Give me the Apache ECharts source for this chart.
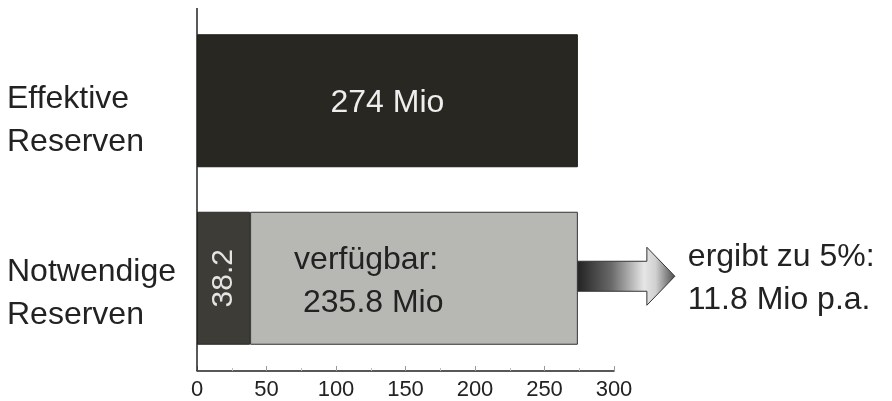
<!DOCTYPE html>
<html>
<head>
<meta charset="utf-8">
<script src="https://cdn.jsdelivr.net/npm/echarts@6/dist/echarts.min.js"></script>
<style>
  html, body { margin: 0; padding: 0; background: #ffffff; }
  #chart { width: 892px; height: 401px; }
</style>
</head>
<body>
<div id="chart"></div>
<script>
// Reserves in millions
const categories = ['Effektive\nReserven', 'Notwendige\nReserven'];
const effectiveReserves = [274, null];
const requiredReserves = [null, 38.2];
const availableReserves = [null, 235.8];
const xMin = 0;
const xMax = 300;
const xStep = 50;
const resultLines = ['ergibt zu 5%:', '11.8 Mio p.a.'];

const FONT = '"Liberation Sans", Arial, Helvetica, sans-serif';
const BIG = 32;
const chart = echarts.init(document.getElementById('chart'), null, { renderer: 'canvas' });

chart.setOption({
  animation: false,
  backgroundColor: '#ffffff',
  grid: { left: 197, right: 278, top: 12, bottom: 33, containLabel: false },
  xAxis: {
    type: 'value',
    min: xMin,
    max: xMax,
    interval: xStep,
    offset: 4,
    axisLine: { show: true, lineStyle: { color: '#222', width: 1.5 } },
    axisTick: { show: true, inside: true, length: 5, lineStyle: { color: '#999', width: 1 } },
    minorTick: { show: true, splitNumber: 2, length: 3, lineStyle: { color: '#bbb' } },
    splitLine: { show: false },
    axisLabel: { color: '#222', fontFamily: FONT, fontSize: 22, margin: 8 }
  },
  yAxis: {
    type: 'category',
    data: categories,
    inverse: true,
    axisLine: { show: false },
    axisTick: { show: false },
    axisLabel: { show: false }
  },
  series: [
    {
      name: 'Effektive Reserven',
      type: 'bar',
      stack: 'total',
      barWidth: 133,
      data: effectiveReserves,
      itemStyle: { color: '#282721', borderColor: '#1c1c18', borderWidth: 1 },
      label: {
        show: true,
        position: 'inside',
        offset: [0, 2],
        formatter: p => p.value + ' Mio',
        color: '#eeeeee',
        fontFamily: FONT,
        fontSize: BIG
      }
    },
    {
      name: 'Notwendige Reserven',
      type: 'bar',
      stack: 'total',
      barWidth: 133,
      data: requiredReserves,
      itemStyle: { color: '#3d3c37', borderColor: '#2a2a26', borderWidth: 1 },
      label: {
        show: true,
        position: 'inside',
        rotate: 90,
        formatter: p => String(p.value),
        color: '#e4e4e4',
        fontFamily: FONT,
        fontSize: 30
      }
    },
    {
      name: 'verfügbar',
      type: 'bar',
      stack: 'total',
      barWidth: 133,
      data: availableReserves,
      itemStyle: { color: '#b7b7b3', borderColor: '#333', borderWidth: 1 },
      label: {
        show: true,
        position: [44, 27],
        align: 'left',
        verticalAlign: 'top',
        formatter: p => 'verfügbar:\n ' + p.value + ' Mio',
        color: '#222',
        fontFamily: FONT,
        fontSize: BIG,
        lineHeight: 43
      }
    }
  ]
});

// Axis line, category names, arrow and result text placed from the axis scales
function drawExtras() {
  const origin = chart.convertToPixel({ gridIndex: 0 }, [0, 0]);
  const total = availableReserves[1] + requiredReserves[1];
  const end = chart.convertToPixel({ gridIndex: 0 }, [total, 1]);
  const gridRect = chart.getModel().getComponent('grid', 0).coordinateSystem.getRect();
  const x0 = end[0];
  const yc = end[1] - 2;
  const shaftLen = 69, headLen = 28, shaftHalf = 15, headHalf = 29;
  const nameShift = [20, 15];

  const names = categories.map((name, i) => {
    const p = chart.convertToPixel({ gridIndex: 0 }, [0, i]);
    return {
      type: 'text',
      x: 7,
      y: p[1] + nameShift[i],
      style: {
        text: name,
        fill: '#222',
        font: BIG + 'px ' + FONT,
        lineHeight: 43,
        textAlign: 'left',
        textVerticalAlign: 'middle'
      },
      z: 10
    };
  });

  chart.setOption({
    graphic: names.concat([
      {
        type: 'line',
        shape: { x1: origin[0], y1: gridRect.y - 4, x2: origin[0], y2: gridRect.y + gridRect.height + 4 },
        style: { stroke: '#222', lineWidth: 1.5 },
        z: 10
      },
      {
        type: 'polygon',
        shape: {
          points: [
            [x0, yc - shaftHalf], [x0 + shaftLen, yc - shaftHalf], [x0 + shaftLen, yc - headHalf],
            [x0 + shaftLen + headLen, yc], [x0 + shaftLen, yc + headHalf], [x0 + shaftLen, yc + shaftHalf],
            [x0, yc + shaftHalf]
          ]
        },
        style: {
          fill: new echarts.graphic.LinearGradient(0, 0, 1, 0, [
            { offset: 0, color: '#222222' },
            { offset: 0.35, color: '#6a6a6a' },
            { offset: 0.68, color: '#e6e6e6' },
            { offset: 0.8, color: '#d0d0d0' },
            { offset: 1, color: '#4a4a4a' }
          ]),
          stroke: '#333',
          lineWidth: 1
        },
        z: 10
      },
      {
        type: 'text',
        x: x0 + shaftLen + headLen + 13,
        y: yc + 2,
        style: {
          text: resultLines.join('\n'),
          fill: '#222',
          font: BIG + 'px ' + FONT,
          lineHeight: 43,
          textAlign: 'left',
          textVerticalAlign: 'middle'
        },
        z: 10
      }
    ])
  });
}
drawExtras();
</script>
</body>
</html>
